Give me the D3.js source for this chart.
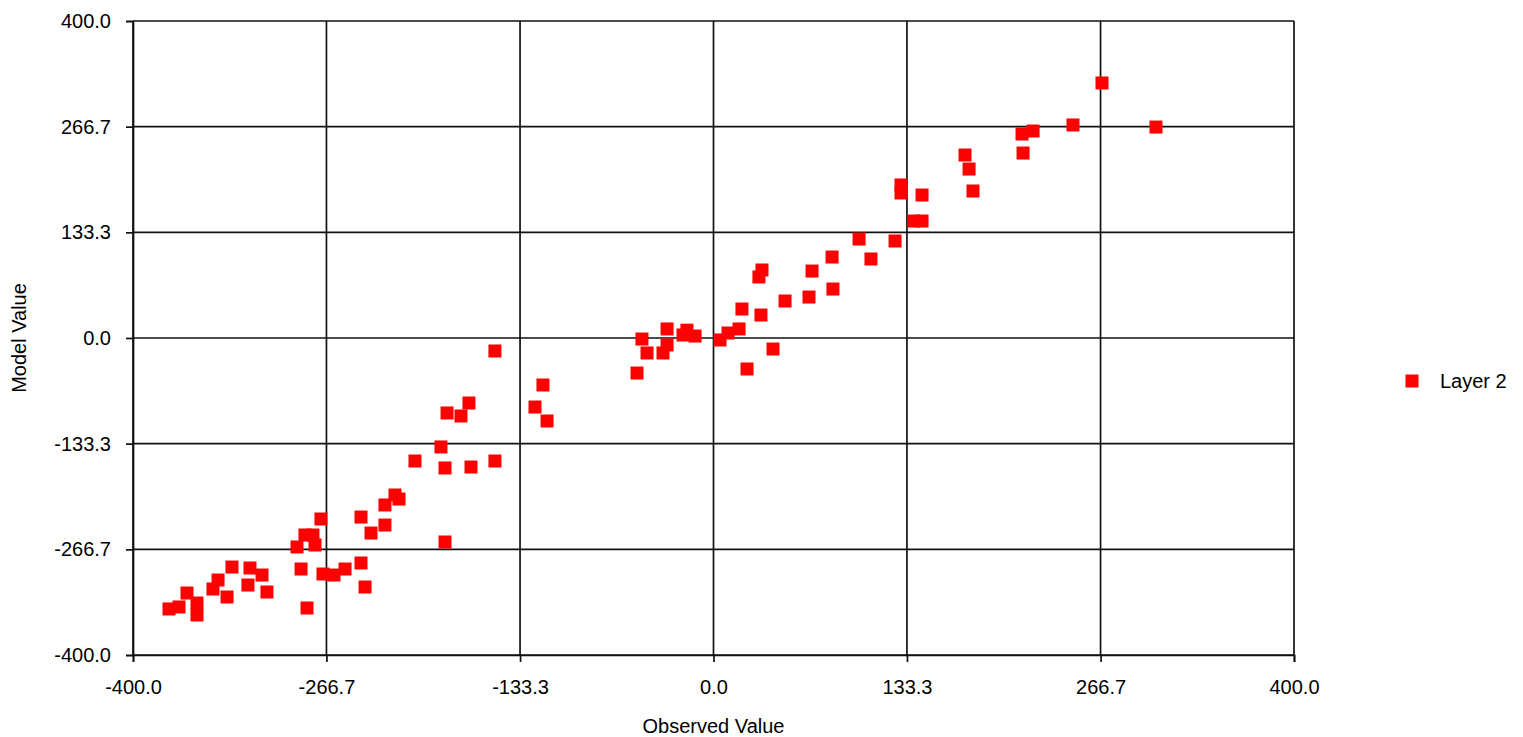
<!DOCTYPE html>
<html>
<head>
<meta charset="utf-8">
<script src="https://cdn.jsdelivr.net/npm/d3@7"></script>
<style>
  html, body { margin: 0; padding: 0; background: #fff; }
  svg { display: block; }
  text { font-family: "Liberation Sans", Arial, sans-serif; fill: #000; }
</style>
</head>
<body>
<svg id="chart" width="1523" height="737"></svg>
<script>
// Observed vs model values for Layer 2
const observed = [
  -375.2, -368.3, -362.8, -355.9, -355.9, -344.9, -341.4, -335.2, -331.8, -319.4,
  -311.1, -320.8, -307.7, -287.0, -284.2, -281.5, -276.0, -274.6, -270.5, -280.1,
  -269.1, -261.5, -253.9, -242.9, -240.1, -242.9, -236.0, -226.4, -226.4, -219.5,
  -216.7, -205.7, -187.8, -185.0, -183.6, -174.0, -168.5, -167.1, -185.0, -150.6,
  -150.6, -123.0, -117.5, -114.7, -52.7, -49.3, -45.8, -34.8, -32.0, -32.0,
  -21.0, -18.3, -12.7, 4.5, 10.0, 17.6, 19.6, 23.1, 32.7, 33.4,
  31.3, 41.0, 49.3, 65.8, 67.9, 81.7, 82.3, 100.3, 108.5, 125.1,
  129.2, 129.2, 138.2, 143.7, 143.7, 173.3, 176.1, 178.8, 212.6, 220.2,
  213.3, 247.7, 267.7, 304.9
];
const modelled = [
  -341.9, -339.4, -321.8, -334.4, -349.5, -316.7, -305.4, -326.8, -289.0, -290.2,
  -299.1, -311.7, -320.5, -263.7, -291.5, -248.6, -248.6, -261.2, -228.4, -340.7,
  -297.8, -299.1, -291.5, -283.9, -314.2, -225.9, -246.1, -210.7, -236.0, -198.1,
  -203.2, -155.2, -137.5, -164.0, -94.6, -98.4, -82.0, -162.8, -257.4, -16.4,
  -155.2, -87.1, -59.3, -104.7, -44.2, -1.3, -18.9, -18.9, -8.8, 11.4,
  3.8, 9.9, 2.5, -2.5, 6.3, 11.4, 36.6, -39.1, 29.0, 85.8,
  77.0, -13.9, 46.7, 51.7, 84.5, 102.2, 61.8, 124.9, 99.7, 122.4,
  193.1, 183.0, 147.6, 147.6, 180.4, 230.9, 213.2, 185.5, 257.4, 261.2,
  233.4, 268.8, 321.8, 266.2
];
const tickValues = [-400, -266.7, -133.3, 0, 133.3, 266.7, 400];
const seriesName = "Layer 2";
const xTitle = "Observed Value";
const yTitle = "Model Value";

const svg = d3.select("#chart");
const plot = { left: 133, right: 1294, top: 21, bottom: 655 };
const fontSize = 20;

const x = d3.scaleLinear().domain([-400, 400]).range([plot.left, plot.right]);
const y = d3.scaleLinear().domain([-400, 400]).range([plot.bottom, plot.top]);

// grid lines
const grid = svg.append("g").attr("stroke", "#111").attr("stroke-width", 1.7);
grid.selectAll("line.v").data(tickValues).join("line").attr("class", "v")
  .attr("x1", d => x(d)).attr("x2", d => x(d))
  .attr("y1", plot.top).attr("y2", plot.bottom);
grid.selectAll("line.h").data(tickValues).join("line").attr("class", "h")
  .attr("x1", plot.left).attr("x2", plot.right)
  .attr("y1", d => y(d)).attr("y2", d => y(d));

// axes
const fmt = d => d.toFixed(1);
const xAxis = svg.append("g").attr("transform", `translate(0,${plot.bottom})`)
  .call(d3.axisBottom(x).tickValues(tickValues).tickFormat(fmt).tickSizeOuter(0).tickSize(7).tickPadding(18));
const yAxis = svg.append("g").attr("transform", `translate(${plot.left},0)`)
  .call(d3.axisLeft(y).tickValues(tickValues).tickFormat(fmt).tickSizeOuter(0).tickSize(7).tickPadding(15));
[xAxis, yAxis].forEach(a => {
  a.attr("font-size", fontSize).attr("font-family", "Liberation Sans, Arial, sans-serif");
  a.selectAll("path, line").attr("stroke", "#111").attr("stroke-width", 1.7);
  a.selectAll("text").attr("font-size", fontSize).attr("fill", "#000");
});

// points
svg.append("g").selectAll("rect").data(observed.map((v, i) => [v, modelled[i]])).join("rect")
  .attr("x", d => x(d[0]) - 6.5).attr("y", d => y(d[1]) - 6.5)
  .attr("width", 13).attr("height", 13)
  .attr("fill", "#ff0000");

// axis titles
svg.append("text").attr("x", (plot.left + plot.right) / 2).attr("y", 733)
  .attr("text-anchor", "middle").attr("font-size", fontSize).text(xTitle);
svg.append("text").attr("transform", `translate(26,${(plot.top + plot.bottom) / 2}) rotate(-90)`)
  .attr("text-anchor", "middle").attr("font-size", fontSize).text(yTitle);

// legend
const lg = svg.append("g").attr("transform", "translate(1412,381)");
lg.append("rect").attr("x", -6.5).attr("y", -6.5).attr("width", 13).attr("height", 13).attr("fill", "#ff0000");
lg.append("text").attr("x", 28).attr("y", 7).attr("font-size", fontSize).text(seriesName);
</script>
</body>
</html>
